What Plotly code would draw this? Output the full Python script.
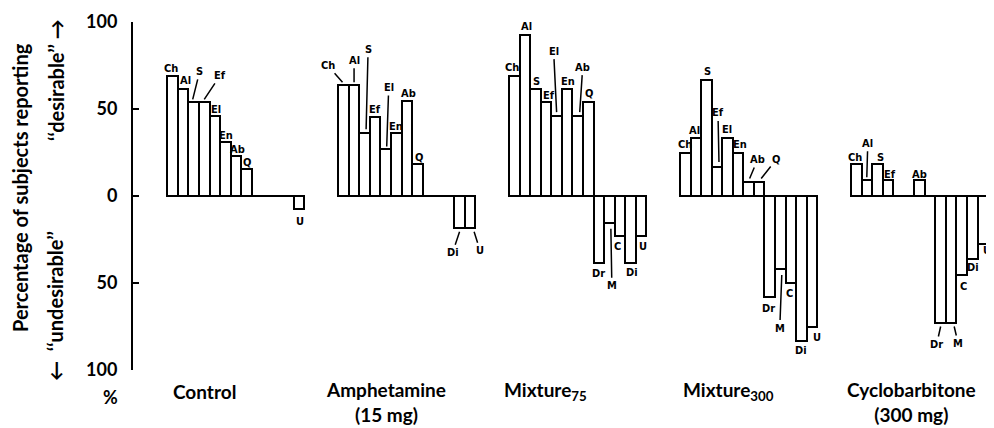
import plotly.graph_objects as go

# ---------------- data ----------------
categories = ["Ch", "Al", "S", "Ef", "El", "En", "Ab", "Q", "Dr", "M", "C", "Di", "U"]
control = [69.2, 61.5, 53.8, 53.8, 46.2, 30.8, 23.1, 15.4, 0, 0, 0, 0, -7.7]
amphetamine = [63.6, 63.6, 36.4, 45.5, 27.3, 36.4, 54.5, 18.2, 0, 0, 0, -18.2, -18.2]
mixture75 = [69.2, 92.3, 61.5, 53.8, 46.2, 61.5, 46.2, 53.8, -38.5, -15.4, -23.1, -38.5, -23.1]
mixture300 = [25.0, 33.3, 66.7, 16.7, 33.3, 25.0, 8.3, 8.3, -58.3, -41.7, -50.0, -83.3, -75.0]
cyclobarbitone = [18.2, 9.1, 18.2, 9.1, 0, 0, 9.1, 0, -72.7, -72.7, -45.5, -36.4, -27.3]
group_names = ["Control", "Amphetamine<br>(15 mg)", "Mixture<sub>75</sub>",
               "Mixture<sub>300</sub>", "Cyclobarbitone<br>(300 mg)"]
tick_values = [-100, -50, 0, 50, 100]
tick_labels = ["100", "50", "0", "50", "100"]

groups = [control, amphetamine, mixture75, mixture300, cyclobarbitone]

# ---------------- layout constants ----------------
OFF = 8                      # default page body margin
W, H = 994 - OFF, 428 - OFF
ML, MR, MT, MB = 133 - OFF, 2, 22 - OFF, 58
GAP = 16.2                   # group spacing in slot units
PX_PER_SLOT = 10.55
X0_PX = 172.6 - OFF
PW, PH = W - ML - MR, H - MT - MB
XMIN = -(X0_PX - ML) / PX_PER_SLOT
XMAX = XMIN + PW / PX_PER_SLOT

def px_x(px):
    return (px - OFF - ML) / PW

def px_y(py):
    return (H - MB - (py - OFF)) / PH

LABEL_FONT = dict(family="DejaVu Sans Condensed, Liberation Sans Narrow, DejaVu Sans",
                  size=11, color="black", weight="bold")
BIG_FONT = dict(family="Lato, Open Sans, sans-serif", size=19, color="black", weight="bold")
TITLE_FONT = dict(family="Lato, Open Sans, sans-serif", size=20, color="black", weight="bold")
TICK_FONT = dict(family="Lato, Open Sans, sans-serif", size=18, color="black", weight="bold")

fig = go.Figure()

for g, vals in enumerate(groups):
    xs = [g * GAP + i for i in range(len(categories))]
    ys = [v if v != 0 else None for v in vals]
    fig.add_trace(go.Bar(
        x=xs, y=ys, width=1.0,
        marker=dict(color="white", line=dict(color="black", width=2)),
        hoverinfo="skip", showlegend=False,
    ))
    fig.add_trace(go.Scatter(
        x=[xs[0] - 0.5, xs[-1] + 0.5], y=[0, 0], mode="lines",
        line=dict(color="black", width=2), hoverinfo="skip", showlegend=False,
    ))

# label placement: (group, category, kind, dx, dy, ax, ay) — pixels, dy down-positive
label_layout = [
    (0, "Ch", "d", -2, -7, 0, 0), (0, "Al", "d", 2, -8, 0, 0),
    (0, "S", "l", -1, -3, 7, -28), (0, "Ef", "l", 0, -3, 16, -24),
    (0, "El", "d", 1, -6, 0, 0), (0, "En", "d", 1, -7, 0, 0),
    (0, "Ab", "d", 2, -6.5, 0, 0), (0, "Q", "d", 1, -6.5, 0, 0),
    (0, "U", "d", 1, 12, 0, 0),

    (1, "Ch", "l", -1, -3, -15, -17), (1, "Al", "l", 0, -3, 0, -22),
    (1, "S", "l", 1.5, -3.5, 2, -80), (1, "Ef", "d", 0, -7.5, 0, 0),
    (1, "El", "l", 1, -2, 2, -59), (1, "En", "d", 0, -6.5, 0, 0),
    (1, "Ab", "d", 1.5, -7.5, 0, 0), (1, "Q", "d", 2, -7, 0, 0),
    (1, "Di", "l", 0, 4, -7, 21), (1, "U", "l", 4, 4, 6, 19),

    (2, "Ch", "d", -2, -8.5, 0, 0), (2, "Al", "d", 2, -8.5, 0, 0),
    (2, "S", "d", 1, -7, 0, 0), (2, "Ef", "d", 3, -6.5, 0, 0),
    (2, "El", "l", 0, -3.5, -3, -61), (2, "En", "d", 1, -7.5, 0, 0),
    (2, "Ab", "l", 2, -3.5, 3, -45), (2, "Q", "d", 1, -9, 0, 0),
    (2, "Dr", "d", 0, 10.5, 0, 0), (2, "M", "l", 1.5, 6, 1, 57),
    (2, "C", "d", -2, 10, 0, 0), (2, "Di", "d", 2, 10, 0, 0),
    (2, "U", "d", 2, 10, 0, 0),

    (3, "Ch", "d", 0, -8, 0, 0), (3, "Al", "d", -1.5, -7.5, 0, 0),
    (3, "S", "d", 1, -8.5, 0, 0), (3, "Ef", "l", 2, -5, -1, -49),
    (3, "El", "d", -1, -9, 0, 0), (3, "En", "d", 1.5, -8, 0, 0),
    (3, "Ab", "l", 1, -3, 8, -19), (3, "Q", "l", 2, -3, 15, -19),
    (3, "Dr", "d", -1.5, 11, 0, 0), (3, "M", "l", 1.5, 6.5, -2, 53),
    (3, "C", "d", -1.5, 10.5, 0, 0), (3, "Di", "d", 0, 9.5, 0, 0),
    (3, "U", "d", 5, 10.5, 0, 0),

    (4, "Ch", "d", -1, -6.5, 0, 0), (4, "Al", "l", 0, -3, 1, -34),
    (4, "S", "d", 3, -7, 0, 0), (4, "Ef", "d", 2, -6, 0, 0),
    (4, "Ab", "d", 0, -6, 0, 0),
    (4, "Dr", "l", 0, 4, -4, 18), (4, "M", "l", 3, 4, 4, 17),
    (4, "C", "d", 1.5, 11.5, 0, 0), (4, "Di", "d", 1, 8, 0, 0),
    (4, "U", "d", 4, 7, 0, 0),
]

annotations = []
for g, cat, kind, dx, dy, ax, ay in label_layout:
    i = categories.index(cat)
    v = groups[g][i]
    base = dict(x=g * GAP + i, y=v, xref="x", yref="y", text=cat,
                font=LABEL_FONT, xshift=dx, yshift=-dy)
    if kind == "d":
        base.update(showarrow=False, xanchor="center", yanchor="middle")
    else:
        base.update(showarrow=True, arrowhead=0, arrowwidth=1.5, arrowcolor="black",
                    ax=ax, ay=ay, standoff=0, startstandoff=0)
    annotations.append(base)

# group labels (reference pixel centres)
group_label_px = [(204, 391), (386, 402), (545, 391), (728, 391), (911, 402)]
for name, (gx, gy) in zip(group_names, group_label_px):
    annotations.append(dict(x=px_x(gx), y=px_y(gy), xref="paper", yref="paper",
                            text=name, showarrow=False, font=BIG_FONT,
                            xanchor="center", yanchor="middle", align="center"))

# y-axis titles
annotations.append(dict(x=px_x(20), y=px_y(188), xref="paper", yref="paper",
                        text="Percentage of subjects reporting", textangle=-90,
                        showarrow=False, font=TITLE_FONT, xanchor="center", yanchor="middle"))
annotations.append(dict(x=px_x(56), y=px_y(80), xref="paper", yref="paper",
                        text="‘‘desirable’’ →", textangle=-90,
                        showarrow=False, font=TITLE_FONT, xanchor="center", yanchor="middle"))
annotations.append(dict(x=px_x(55), y=px_y(306), xref="paper", yref="paper",
                        text="←  ‘‘undesirable’’", textangle=-90,
                        showarrow=False, font=TITLE_FONT, xanchor="center", yanchor="middle"))
annotations.append(dict(x=px_x(110), y=px_y(397), xref="paper", yref="paper",
                        text="%", showarrow=False, font=TICK_FONT,
                        xanchor="center", yanchor="middle"))

fig.update_layout(
    width=W, height=H,
    margin=dict(l=ML, r=MR, t=MT, b=MB, pad=0),
    paper_bgcolor="white", plot_bgcolor="white",
    barmode="overlay", bargap=0,
    annotations=annotations,
    xaxis=dict(range=[XMIN, XMAX], visible=False, fixedrange=True),
    yaxis=dict(range=[-100, 100], tickvals=tick_values, ticktext=tick_labels,
               ticks="inside", ticklen=6, tickwidth=2, tickcolor="black",
               showline=True, linewidth=2, linecolor="black",
               showgrid=False, zeroline=False, ticklabelstandoff=10,
               tickfont=TICK_FONT, fixedrange=True),
)

fig.write_html("out.html")
